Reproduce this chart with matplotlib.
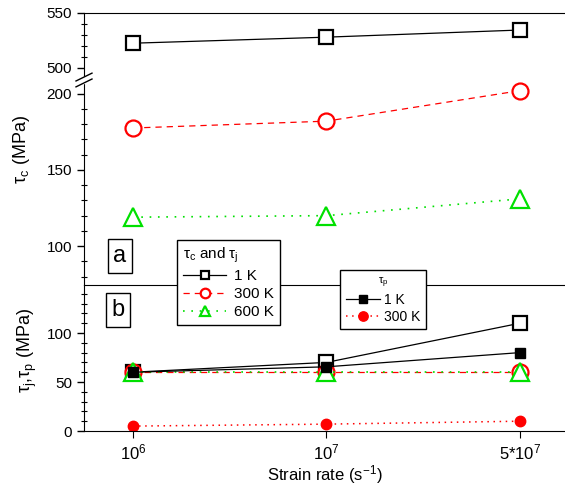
import matplotlib.pyplot as plt
import numpy as np
from matplotlib.lines import Line2D
from matplotlib.ticker import MultipleLocator

plt.rcParams['font.family'] = ['Liberation Sans', 'DejaVu Sans']
plt.rcParams['mathtext.fontset'] = 'custom'
plt.rcParams['mathtext.rm'] = 'Liberation Sans'
plt.rcParams['mathtext.it'] = 'Liberation Sans'
plt.rcParams['mathtext.sf'] = 'Liberation Sans'

# strain rates (equally spaced categories)
taxa = ["10$^6$", "10$^7$", "5*10$^7$"]

# tau_c (MPa), painel a
tc_1K = [522.5, 528, 534.5]
tc_300K = [177.5, 182, 202]
tc_600K = [119, 120, 131]

# tau_j (MPa), painel b
tj_1K = [60, 70, 110]
tj_300K = [60, 60, 60]
tj_600K = [60, 60, 60]

# tau_p (MPa), painel b
tp_1K = [60, 65.5, 80]
tp_300K = [5, 7, 10]

x = np.arange(len(taxa))
W, H = 565, 490
fig = plt.figure(figsize=(W / 100, H / 100), dpi=100)


def caixa(y0, y1):
    # y0, y1 em pixels a partir do topo
    return [84 / W, (H - y1) / H, 1 - 84 / W, (y1 - y0) / H]


ax_sup = fig.add_axes(caixa(13, 80))
ax_meio = fig.add_axes(caixa(80, 285))
ax_b = fig.add_axes(caixa(285, 431))

xlim = (-0.253, 2.233)
for ax in (ax_sup, ax_meio, ax_b):
    ax.set_xlim(*xlim)
    ax.spines['right'].set_visible(False)
    ax.tick_params(axis='y', which='major', direction='out', length=5, width=1, labelsize=11)
    ax.tick_params(axis='y', which='minor', direction='inout', length=4, width=0.8)
    ax.yaxis.set_minor_locator(MultipleLocator(10))
    ax.set_facecolor('none')

ax_sup.spines['bottom'].set_visible(False)
ax_meio.spines['top'].set_visible(False)
ax_meio.spines['bottom'].set_visible(False)
for ax in (ax_sup, ax_meio):
    ax.set_xticks([])

ax_sup.set_ylim(489, 550)
ax_sup.set_yticks([500, 550])
ax_meio.set_ylim(74.5, 209)
ax_meio.set_yticks([100, 150, 200])
ax_b.set_ylim(0, 149)
ax_b.set_yticks([0, 50, 100])

ax_b.set_xticks(x)
ax_b.set_xticklabels(taxa)
ax_b.tick_params(axis='x', direction='out', length=5, labelsize=12, pad=3)

# estilos
lw = 0.9
s1 = dict(color='black', ls='-', lw=lw, marker='s', ms=10, mfc='white', mec='black', mew=1.6)
s300 = dict(color='red', ls=(0, (5, 4)), lw=lw, marker='o', ms=11.5, mfc='white', mec='red', mew=1.6)
s600 = dict(color='#00e000', ls=(0, (1, 4)), lw=1.2, marker='^', ms=13, mfc='white', mec='#00e000', mew=1.6)
p1 = dict(color='black', ls='-', lw=lw, marker='s', ms=6.5, mfc='black', mec='black')
p300 = dict(color='red', ls=(0, (1, 3)), lw=1.1, marker='o', ms=7.5, mfc='red', mec='red')

ax_sup.plot(x, tc_1K, **s1, clip_on=False)
ax_meio.plot(x, tc_300K, **s300, clip_on=False)
ax_meio.plot(x, tc_600K, **s600, clip_on=False)

ax_b.plot(x, tj_1K, **s1)
ax_b.plot(x, tj_300K, **s300)
ax_b.plot(x, tj_600K, **s600)
ax_b.plot(x, tp_1K, **p1)
ax_b.plot(x, tp_300K, **p300)

# marca de quebra no eixo
yq = 1 - 80 / H
for dy in (-0.006, 0.006):
    fig.add_artist(Line2D([76 / W, 92 / W], [yq + dy - 0.008, yq + dy + 0.008],
                          color='black', lw=1, transform=fig.transFigure))
fig.add_artist(plt.Rectangle((80 / W, yq - 0.006), 8 / W, 0.012, color='white',
                             transform=fig.transFigure, zorder=1))

# rotulos dos paineis
caixa_txt = dict(boxstyle='square,pad=0.25', fc='white', ec='black', lw=1)
fig.text(120 / W, 1 - 256 / H, 'a', fontsize=17, ha='center', va='center', bbox=caixa_txt)
fig.text(118 / W, 1 - 310 / H, 'b', fontsize=17, ha='center', va='center', bbox=caixa_txt)

# eixos
fig.text(22 / W, 1 - 150 / H, 'τ$_\\mathregular{c}$ (MPa)', fontsize=13, rotation=90,
         ha='center', va='center')
fig.text(27 / W, 1 - 350 / H, 'τ$_\\mathregular{j}$,τ$_\\mathregular{p}$ (MPa)', fontsize=13,
         rotation=90, ha='center', va='center')
fig.text(325 / W, 1 - 475 / H, 'Strain rate (s$^\\mathregular{-1}$)', fontsize=12,
         ha='center', va='center')

# legendas
h1 = [Line2D([], [], **s1), Line2D([], [], **s300), Line2D([], [], **s600)]
leg1 = fig.legend(h1, ['1 K', '300 K', '600 K'], loc='upper left',
                  bbox_to_anchor=(177 / W, 1 - 240 / H), bbox_transform=fig.transFigure,
                  title='τ$_\\mathregular{c}$ and τ$_\\mathregular{j}$', title_fontsize=11,
                  alignment='left', fontsize=11, markerscale=0.6, handlelength=2.8,
                  fancybox=False, framealpha=1, edgecolor='black', borderpad=0.4,
                  labelspacing=0.25, handletextpad=0.5, borderaxespad=0)
leg1.get_frame().set_linewidth(1)

h2 = [Line2D([], [], **p1), Line2D([], [], **p300)]
leg2 = fig.legend(h2, ['1 K', '300 K'], loc='upper left',
                  bbox_to_anchor=(340 / W, 1 - 270 / H), bbox_transform=fig.transFigure,
                  title='τ$_\\mathregular{p}$', title_fontsize=8,
                  fontsize=10, markerscale=0.9, handlelength=2.5,
                  fancybox=False, framealpha=1, edgecolor='black', borderpad=0.4,
                  labelspacing=0.2, handletextpad=0.3, borderaxespad=0)
leg2.get_frame().set_linewidth(1)

fig.savefig('out.png', dpi=100)
